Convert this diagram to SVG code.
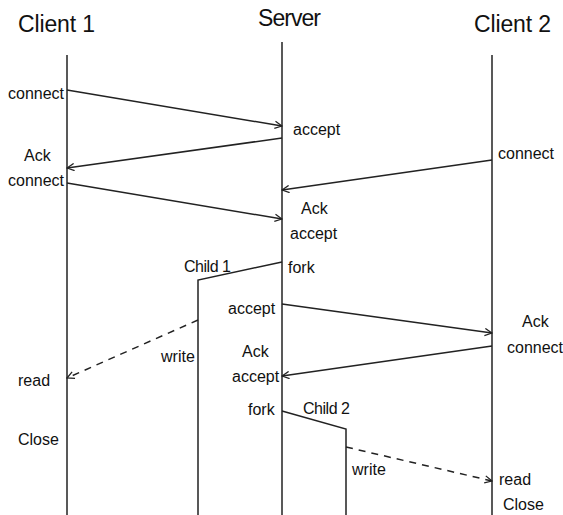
<svg xmlns="http://www.w3.org/2000/svg" width="563" height="515" viewBox="0 0 563 515">
<defs>
<marker id="ah" viewBox="0 0 10 10" refX="9" refY="5" markerWidth="9" markerHeight="9" markerUnits="userSpaceOnUse" orient="auto">
<path d="M1,1 L9,5 L1,9" fill="none" stroke="#222" stroke-width="1.4"/>
</marker>
</defs>
<style>
.line{stroke:#222;stroke-width:1.5;fill:none}
.msg{stroke:#222;stroke-width:1.5;fill:none;marker-end:url(#ah)}
.dash{stroke:#222;stroke-width:1.5;fill:none;stroke-dasharray:7,6;marker-end:url(#ah)}
.big{font-family:"Liberation Sans",Arial,sans-serif;font-size:23px;fill:#111}
.lbl{font-family:"Liberation Sans",Arial,sans-serif;font-size:16px;fill:#111}
</style>
<rect width="563" height="515" fill="#fff"/>
<g id="client1">
<line class="line" x1="67" y1="55" x2="67" y2="515"/>
<text class="big" x="18" y="32" textLength="77">Client 1</text>
</g>
<g id="server">
<line class="line" x1="282" y1="42" x2="282" y2="515"/>
<text class="big" x="258" y="26" textLength="63">Server</text>
</g>
<g id="client2">
<line class="line" x1="492" y1="55" x2="492" y2="515"/>
<text class="big" x="474" y="32" textLength="77">Client 2</text>
</g>
<g id="child1">
<polyline class="line" points="282,262 198,280 198,515"/>
<text class="lbl" x="184" y="272" textLength="47">Child 1</text>
</g>
<g id="child2">
<polyline class="line" points="282,411 346,429 346,515"/>
<text class="lbl" x="303" y="414" textLength="47">Child 2</text>
</g>
<g id="connectors">
<line class="msg" x1="67" y1="90" x2="282" y2="126"/>
<line class="msg" x1="282" y1="138" x2="67" y2="168"/>
<line class="msg" x1="492" y1="160" x2="282" y2="190"/>
<line class="msg" x1="67" y1="183" x2="282" y2="219"/>
<line class="dash" x1="198" y1="320" x2="67" y2="378"/>
<line class="msg" x1="282" y1="304" x2="492" y2="333"/>
<line class="msg" x1="492" y1="346" x2="282" y2="376"/>
<line class="dash" x1="346" y1="447" x2="492" y2="481"/>
</g>
<g id="labels">
<text class="lbl" x="8" y="99">connect</text>
<text class="lbl" x="293" y="135">accept</text>
<text class="lbl" x="24" y="161">Ack</text>
<text class="lbl" x="8" y="186">connect</text>
<text class="lbl" x="498" y="159">connect</text>
<text class="lbl" x="301" y="214">Ack</text>
<text class="lbl" x="290" y="239">accept</text>
<text class="lbl" x="288" y="273">fork</text>
<text class="lbl" x="228" y="314">accept</text>
<text class="lbl" x="161" y="362">write</text>
<text class="lbl" x="242" y="357">Ack</text>
<text class="lbl" x="232" y="382">accept</text>
<text class="lbl" x="522" y="327">Ack</text>
<text class="lbl" x="507" y="353">connect</text>
<text class="lbl" x="18" y="386">read</text>
<text class="lbl" x="248" y="415">fork</text>
<text class="lbl" x="18" y="445">Close</text>
<text class="lbl" x="352" y="475">write</text>
<text class="lbl" x="499" y="485">read</text>
<text class="lbl" x="503" y="510">Close</text>
</g>
</svg>
